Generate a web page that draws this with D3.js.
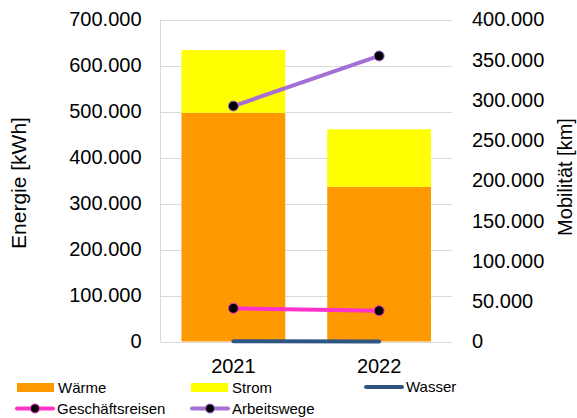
<!DOCTYPE html>
<html>
<head>
<meta charset="utf-8">
<script src="https://cdn.jsdelivr.net/npm/d3@7"></script>
<style>
  html, body { margin: 0; padding: 0; background: #fff; }
  svg { display: block; font-family: "Liberation Sans", Arial, sans-serif; }
</style>
</head>
<body>
<svg id="chart" width="577" height="418"></svg>
<script>
// ---- data ----
const years = ["2021", "2022"];
const waerme = [497000, 336500];
const strom = [136500, 124800];
const wasser = [300, 250];
const geschaeftsreisen = [41200, 38300];
const arbeitswege = [292500, 354700];
const leftTicks = [0, 100000, 200000, 300000, 400000, 500000, 600000, 700000];
const rightTicks = [0, 50000, 100000, 150000, 200000, 250000, 300000, 350000, 400000];

const colors = {
  waerme: "#ff9900",
  strom: "#ffff00",
  wasser: "#2f5583",
  geschaeftsreisen: "#ff33cc",
  arbeitswege: "#a66fd6"
};

const svg = d3.select("#chart");
const m = { left: 160.5, right: 452, top: 19.5, bottom: 341.5 };

const fmt = v => v === 0 ? "0" : d3.format(",")(v).replace(/,/g, ".");

const x = d3.scaleBand().domain(years).range([m.left, m.right])
  .paddingInner(0.288).paddingOuter(0.144);
const yL = d3.scaleLinear().domain([0, 700000]).range([m.bottom, m.top]);
const yR = d3.scaleLinear().domain([0, 400000]).range([m.bottom, m.top]);

// gridlines
svg.append("g").selectAll("line").data(leftTicks).join("line")
  .attr("x1", m.left).attr("x2", m.right)
  .attr("y1", d => Math.round(yL(d)) + 0.5).attr("y2", d => Math.round(yL(d)) + 0.5)
  .attr("stroke", "#d9d9d9").attr("stroke-width", 1);
// left axis line
svg.append("line").attr("x1", m.left).attr("x2", m.left)
  .attr("y1", m.top).attr("y2", m.bottom + 0.5)
  .attr("stroke", "#d9d9d9");

// left axis labels
const axL = d3.axisLeft(yL).tickValues(leftTicks).tickFormat(fmt).tickSize(0).tickPadding(19);
const gL = svg.append("g").attr("transform", `translate(${m.left},0)`).call(axL);
gL.select(".domain").remove();
gL.selectAll("text").attr("font-size", 20).attr("fill", "#000")
  .attr("font-family", "'Liberation Sans', Arial, sans-serif");

// right axis labels
const axR = d3.axisRight(yR).tickValues(rightTicks).tickFormat(fmt).tickSize(0).tickPadding(20);
const gR = svg.append("g").attr("transform", `translate(${m.right},0)`).call(axR);
gR.select(".domain").remove();
gR.selectAll("text").attr("font-size", 20).attr("fill", "#000")
  .attr("font-family", "'Liberation Sans', Arial, sans-serif");

// stacked bars
const stackData = years.map((yr, i) => ({ year: yr, waerme: waerme[i], strom: strom[i] }));
const stack = d3.stack().keys(["waerme", "strom"])(stackData);
svg.append("g").selectAll("g").data(stack).join("g")
  .attr("fill", d => colors[d.key])
  .selectAll("rect").data(d => d).join("rect")
  .attr("x", d => x(d.data.year))
  .attr("width", x.bandwidth())
  .attr("y", d => yL(d[1]))
  .attr("height", d => yL(d[0]) - yL(d[1]));

// x axis labels
const axX = d3.axisBottom(x).tickSize(0).tickPadding(17);
const gX = svg.append("g").attr("transform", `translate(0,${m.bottom})`).call(axX);
gX.select(".domain").remove();
gX.selectAll("text").attr("font-size", 20).attr("fill", "#000")
  .attr("font-family", "'Liberation Sans', Arial, sans-serif");

const cx = d => x(d) + x.bandwidth() / 2;

// Wasser line (left axis)
svg.append("path")
  .datum(years.map((yr, i) => [cx(yr), yL(wasser[i])]))
  .attr("d", d3.line())
  .attr("fill", "none").attr("stroke", colors.wasser)
  .attr("stroke-width", 4).attr("stroke-linecap", "round");

// lines with markers (right axis)
function lineSeries(vals, col) {
  const pts = years.map((yr, i) => [cx(yr), yR(vals[i])]);
  svg.append("path").datum(pts).attr("d", d3.line())
    .attr("fill", "none").attr("stroke", col).attr("stroke-width", 4)
    .attr("stroke-linecap", "round");
  svg.append("g").selectAll("circle").data(pts).join("circle")
    .attr("cx", d => d[0]).attr("cy", d => d[1]).attr("r", 5)
    .attr("fill", "#000").attr("stroke", col).attr("stroke-width", 1);
}
lineSeries(geschaeftsreisen, colors.geschaeftsreisen);
lineSeries(arbeitswege, colors.arbeitswege);

// axis titles
svg.append("text").attr("transform", "translate(26,183) rotate(-90)")
  .attr("text-anchor", "middle").attr("font-size", 21).attr("fill", "#000")
  .text("Energie [kWh]");
svg.append("text").attr("transform", "translate(572,177) rotate(-90)")
  .attr("text-anchor", "middle").attr("font-size", 20).attr("fill", "#000")
  .text("Mobilität [km]");

// legend
const legendItems = [
  { name: "Wärme", type: "rect", color: colors.waerme, x: 17, y: 387.5 },
  { name: "Strom", type: "rect", color: colors.strom, x: 191, y: 387.5 },
  { name: "Wasser", type: "line", color: colors.wasser, x: 365, y: 387 },
  { name: "Geschäftsreisen", type: "marker", color: colors.geschaeftsreisen, x: 16, y: 408.5 },
  { name: "Arbeitswege", type: "marker", color: colors.arbeitswege, x: 191, y: 408.5 }
];
const lg = svg.append("g");
legendItems.forEach(it => {
  const g = lg.append("g");
  if (it.type === "rect") {
    g.append("rect").attr("x", it.x).attr("y", it.y - 4.5).attr("width", 37).attr("height", 9)
      .attr("fill", it.color);
  } else {
    g.append("line").attr("x1", it.x + 1).attr("x2", it.x + 37)
      .attr("y1", it.y).attr("y2", it.y).attr("stroke", it.color)
      .attr("stroke-width", 4).attr("stroke-linecap", "round");
    if (it.type === "marker") {
      g.append("circle").attr("cx", it.x + 19).attr("cy", it.y).attr("r", 4.5)
        .attr("fill", "#000").attr("stroke", it.color).attr("stroke-width", 1);
    }
  }
  g.append("text").attr("x", it.x + 41).attr("y", it.y).attr("dy", "0.36em")
    .attr("font-size", 15).attr("fill", "#000").text(it.name);
});
</script>
</body>
</html>
